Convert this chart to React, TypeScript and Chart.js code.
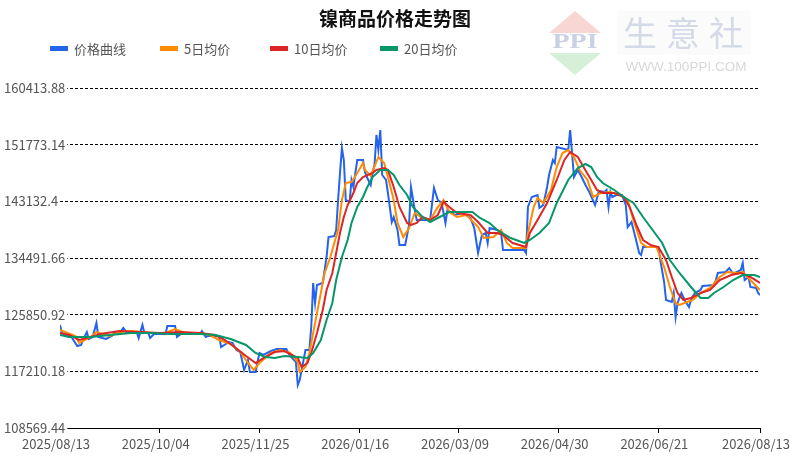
import React, { useEffect, useRef } from "react";
import { Chart, registerables } from "chart.js";

Chart.register(...registerables);

const FONT = '"Noto Sans CJK SC", "Noto Sans", sans-serif';

const chartTitle = "镍商品价格走势图";
const seriesNames = ["价格曲线", "5日均价", "10日均价", "20日均价"];
const seriesColors = ["#2563eb", "#ff8c00", "#dc2626", "#059669"];

const yTicks = [108569.44, 117210.18, 125850.92, 134491.66, 143132.4, 151773.14, 160413.88];
const xTickDays = [0, 52, 104, 156, 208, 260, 312, 365];
const xTickLabels = [
  "2025/08/13", "2025/10/04", "2025/11/25", "2026/01/16",
  "2026/03/09", "2026/04/30", "2026/06/21", "2026/08/13",
];

// [day since 2025/08/13, price]
const price: [number, number][] = [
  [0, 124276], [1, 123056], [3, 122599], [6, 122446], [9, 121074], [11, 121227], [12, 121989],
  [14, 123209], [15, 122142], [17, 122446], [19, 124581], [20, 122446], [24, 122142], [27, 122599],
  [29, 123209], [31, 123056], [33, 123819], [35, 123056], [40, 123209], [41, 122294], [43, 124276],
  [44, 123056], [46, 123056], [47, 122294], [49, 122904], [55, 122904], [56, 124124], [60, 124124],
  [61, 122446], [63, 122904], [73, 122904], [74, 123361], [76, 122446], [77, 122599], [83, 122599],
  [84, 120922], [88, 121684], [90, 121532], [92, 120464], [94, 120159], [96, 117415], [98, 118939],
  [99, 117110], [102, 117110], [103, 118634], [104, 120007], [106, 119702], [110, 120312],
  [113, 120617], [118, 120617], [120, 119549], [123, 118634], [124, 115127], [125, 115890],
  [126, 117415], [127, 118939], [128, 120464], [130, 120464], [131, 123971], [132, 130680],
  [133, 127631], [134, 130375], [137, 130680], [138, 132663], [139, 134645], [140, 137694],
  [143, 137847], [144, 138762], [145, 143336], [146, 147453], [147, 151265], [148, 149435],
  [149, 143336], [151, 143031], [152, 146386], [153, 145318], [154, 147453], [155, 149435],
  [158, 149435], [159, 147606], [160, 146843], [162, 145623], [163, 147453], [164, 148673],
  [165, 153247], [166, 150960], [167, 154010], [168, 147148], [170, 146386], [171, 144404],
  [173, 139982], [174, 140744], [176, 138762], [177, 136475], [180, 136475], [182, 139524],
  [183, 145318], [185, 141811], [186, 140287], [193, 140287], [195, 145166], [197, 143336],
  [199, 142879], [201, 139829], [202, 141811], [206, 141049], [210, 141354], [214, 140592],
  [216, 139067], [218, 135255], [220, 137999], [222, 138304], [223, 136780], [224, 139067],
  [228, 138762], [230, 138304], [231, 135712], [242, 135712], [243, 135255], [244, 142269],
  [246, 143794], [249, 144099], [250, 142116], [252, 142574], [254, 145318], [255, 147148],
  [257, 149435], [258, 148978], [259, 151418], [265, 150960], [266, 154010], [267, 150503],
  [268, 146843], [270, 147911], [272, 146843], [274, 145623], [276, 144556], [279, 142574],
  [281, 144709], [284, 144556], [285, 144861], [286, 142269], [287, 144556], [288, 143794],
  [290, 144099], [293, 144099], [295, 142574], [296, 139219], [298, 139982], [300, 137694],
  [302, 135255], [303, 134950], [304, 136170], [312, 136170], [313, 134187], [315, 130833],
  [316, 128088], [319, 127783], [320, 129156], [321, 125496], [322, 127631], [324, 129156],
  [326, 127936], [328, 127021], [329, 128088], [331, 129156], [334, 129613], [335, 130223],
  [341, 130375], [342, 131138], [343, 132205], [347, 132358], [349, 132968], [351, 132053],
  [354, 132510], [355, 132663], [356, 133730], [357, 131138], [359, 131595], [360, 130070],
  [363, 129918], [364, 129156], [365, 128851],
];

const ma5: [number, number][] = [
  [0, 123514], [8, 122599], [10, 121532], [16, 122446], [19, 123209], [26, 122599], [31, 123209],
  [37, 123361], [42, 123209], [47, 123056], [55, 123056], [60, 123666], [65, 123056], [73, 123056],
  [78, 122751], [83, 121989], [89, 121379], [94, 120159], [98, 118482], [101, 117415], [104, 118482],
  [110, 120007], [115, 120464], [120, 120007], [124, 118634], [125, 117110], [128, 117872],
  [130, 120007], [133, 124581], [136, 129156], [138, 132205], [141, 134645], [143, 136780],
  [145, 138762], [147, 143336], [149, 145928], [152, 146081], [155, 147453], [158, 148978],
  [159, 147911], [162, 146996], [166, 149893], [169, 148978], [171, 146843], [174, 143336],
  [176, 139829], [179, 137694], [182, 139067], [185, 141354], [189, 140592], [193, 140287],
  [197, 142269], [200, 143336], [203, 141506], [207, 140744], [212, 141049], [218, 139219],
  [221, 137542], [226, 137694], [230, 138762], [233, 136780], [236, 136017], [243, 136017],
  [244, 138304], [247, 142269], [249, 143641], [252, 142879], [256, 144861], [259, 148368],
  [262, 150503], [265, 150960], [268, 149893], [271, 147911], [275, 146386], [278, 143794],
  [282, 144404], [287, 144556], [292, 144099], [296, 143336], [299, 140287], [303, 136780],
  [306, 136170], [311, 136170], [315, 133120], [318, 130070], [321, 127631], [323, 127326],
  [327, 127783], [330, 128088], [334, 129156], [339, 129918], [344, 131595], [348, 132358],
  [353, 132205], [356, 132358], [360, 131138], [365, 129613],
];

const ma10: [number, number][] = [
  [0, 123056], [5, 122751], [10, 121989], [16, 122446], [21, 122904], [31, 123361], [42, 123209],
  [52, 123056], [63, 123209], [73, 123056], [81, 122751], [86, 121989], [91, 120922], [97, 119549],
  [102, 118482], [107, 119397], [112, 120159], [117, 120312], [124, 119244], [126, 117872],
  [129, 118482], [131, 120007], [134, 123056], [137, 126563], [139, 129613], [142, 132205],
  [144, 135255], [146, 138304], [148, 140744], [150, 142574], [153, 144404], [155, 145928],
  [158, 146843], [163, 147453], [165, 147911], [169, 148216], [171, 147911], [174, 145318],
  [177, 142269], [181, 139829], [183, 139524], [186, 139829], [189, 140744], [193, 140287],
  [197, 141049], [200, 143031], [203, 142269], [207, 141354], [214, 141049], [218, 139982],
  [223, 138304], [228, 138304], [231, 137999], [236, 136780], [243, 136170], [245, 138304],
  [249, 140287], [254, 142879], [259, 146386], [263, 149435], [266, 150655], [270, 149893],
  [273, 148368], [277, 146386], [280, 144861], [283, 144404], [289, 144404], [294, 143794],
  [297, 142269], [301, 139219], [304, 137237], [308, 136475], [312, 136170], [316, 134187],
  [319, 131595], [322, 129156], [325, 128088], [329, 128393], [334, 129156], [339, 129613],
  [344, 131138], [350, 131900], [355, 132205], [360, 131595], [365, 130680],
];

const ma20: [number, number][] = [
  [0, 122751], [5, 122446], [16, 122446], [26, 122751], [37, 123056], [47, 123056], [57, 122904],
  [73, 122904], [81, 122751], [89, 122142], [97, 121227], [102, 120007], [107, 119397],
  [112, 119244], [117, 119549], [124, 119397], [129, 119244], [132, 120007], [136, 121989],
  [139, 125039], [142, 127631], [144, 131138], [147, 134645], [150, 137237], [152, 139829],
  [155, 142269], [158, 143794], [160, 145166], [163, 146843], [167, 147911], [171, 147911],
  [174, 147148], [177, 145623], [181, 144099], [184, 142269], [189, 140744], [193, 139982],
  [198, 140744], [203, 141506], [210, 141506], [215, 141506], [219, 140592], [224, 139829],
  [228, 138762], [235, 137542], [242, 136780], [245, 137237], [250, 138304], [255, 139829],
  [259, 142879], [265, 146386], [270, 148216], [274, 148826], [277, 148368], [280, 146843],
  [283, 145928], [289, 144861], [294, 143794], [299, 142879], [304, 140744], [309, 138762],
  [314, 136780], [318, 134187], [323, 132205], [329, 130070], [334, 128393], [338, 128393],
  [341, 129156], [346, 130070], [351, 131138], [356, 131900], [362, 131900], [365, 131595],
];

const seriesData = [price, ma5, ma10, ma20];

const watermark = {
  id: "watermark",
  beforeDraw(chart: Chart) {
    const ctx = chart.ctx;
    ctx.save();
    ctx.fillStyle = "#fbfbfb";
    ctx.fillRect(617, 11, 134, 44);
    ctx.fillStyle = "#f8d6d4";
    ctx.beginPath();
    ctx.moveTo(575, 11);
    ctx.lineTo(601, 33);
    ctx.lineTo(549, 33);
    ctx.closePath();
    ctx.fill();
    ctx.fillStyle = "#d6efd8";
    ctx.beginPath();
    ctx.moveTo(549, 53);
    ctx.lineTo(601, 53);
    ctx.lineTo(575, 75);
    ctx.closePath();
    ctx.fill();
    ctx.textAlign = "center";
    ctx.textBaseline = "middle";
    ctx.fillStyle = "#c9d1e3";
    ctx.font = 'bold 21px "Liberation Serif", serif';
    ctx.save();
    ctx.translate(575, 43);
    ctx.scale(1.33, 1);
    ctx.fillText("PPI", 0, 0);
    ctx.restore();
    ctx.fillStyle = "#d4dae7";
    ctx.font = `34px ${FONT}`;
    ["生", "意", "社"].forEach((c, i) => ctx.fillText(c, 640 + i * 43, 33));
    ctx.fillStyle = "#d8d8d8";
    ctx.font = '13.5px "Liberation Sans", sans-serif';
    ctx.fillText("WWW.100PPI.COM", 686, 67);
    ctx.restore();
  },
};

const header = {
  id: "header",
  beforeDraw(chart: Chart) {
    const ctx = chart.ctx;
    ctx.save();
    ctx.textBaseline = "middle";
    ctx.textAlign = "center";
    ctx.fillStyle = "#111";
    ctx.font = `bold 19px ${FONT}`;
    ctx.fillText(chartTitle, 395, 19);
    ctx.textAlign = "left";
    ctx.font = `13px ${FONT}`;
    chart.data.datasets.forEach((ds, i) => {
      const x = 50 + i * 110;
      ctx.fillStyle = ds.borderColor as string;
      ctx.fillRect(x, 46, 18, 5);
      ctx.fillStyle = "#555";
      ctx.fillText(ds.label as string, x + 24, 49);
    });
    ctx.restore();
  },
};

const App = () => {
  const chartRef = useRef<HTMLCanvasElement>(null);

  useEffect(() => {
    if (!chartRef.current) return;
    const chart = new Chart(chartRef.current, {
      type: "line",
      data: {
        datasets: seriesData.map((s, i) => ({
          label: seriesNames[i],
          data: s.map(([x, y]) => ({ x, y })),
          borderColor: seriesColors[i],
          backgroundColor: seriesColors[i],
          borderWidth: 2,
          pointRadius: 0,
          tension: 0,
          fill: false,
          order: 3 - i,
        })),
      },
      options: {
        animation: false,
        responsive: true,
        maintainAspectRatio: false,
        layout: { padding: { top: 88, left: 4, right: 30, bottom: 0 } },
        plugins: {
          legend: { display: false },
          title: { display: false },
          tooltip: { enabled: false },
        },
        scales: {
          x: {
            type: "linear",
            min: 0,
            max: 365,
            afterBuildTicks: (scale: any) => {
              scale.ticks = xTickDays.map((value) => ({ value }));
            },
            afterFit: (scale: any) => {
              scale.height = 30;
              scale.paddingLeft = 0;
              scale.paddingRight = 0;
            },
            grid: { drawOnChartArea: false, drawTicks: true, tickLength: 5, tickColor: "#000" },
            border: { color: "#000", width: 1 },
            ticks: {
              autoSkip: false,
              maxRotation: 0,
              color: "#555",
              font: { family: FONT, size: 13 },
              padding: 3,
              labelOffset: -4,
              callback: (_v: any, i: number) => xTickLabels[i],
            },
          },
          y: {
            min: yTicks[0],
            max: yTicks[yTicks.length - 1],
            afterBuildTicks: (scale: any) => {
              scale.ticks = yTicks.map((value) => ({ value }));
            },
            afterFit: (scale: any) => {
              scale.width = 56;
            },
            grid: {
              color: "#000",
              lineWidth: 1,
              tickLength: 56,
              tickColor: "#000",
              tickBorderDash: (ctx: any) => (ctx.index === 0 ? [] : [3, 2]),
            },
            border: { display: false, dash: [3, 2] },
            ticks: {
              mirror: true,
              crossAlign: "near",
              padding: -56,
              color: "#555",
              font: { family: FONT, size: 13 },
              showLabelBackdrop: true,
              backdropColor: "#fff",
              backdropPadding: { top: 1, bottom: 1, left: 1, right: 2 },
              callback: (_v: any, i: number) => String(yTicks[i]),
            },
          },
        },
      },
      plugins: [watermark, header],
    });
    return () => {
      chart.destroy();
    };
  }, []);

  return (
    <div style={{ position: "fixed", left: 0, top: 0, width: 790, height: 458, background: "#fff" }}>
      <canvas ref={chartRef} />
    </div>
  );
};

export default App;
